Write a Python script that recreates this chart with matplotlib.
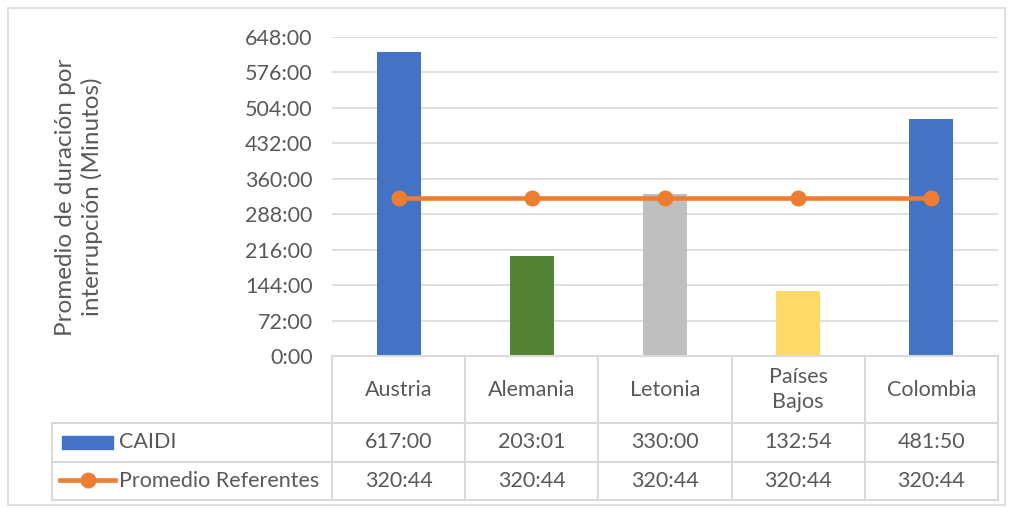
import matplotlib.pyplot as plt
import matplotlib.transforms as mtransforms
from matplotlib.patches import Rectangle
from matplotlib.lines import Line2D

plt.rcParams['font.family'] = ['Lato', 'DejaVu Sans']

# Datos (horas:minutos expresados en horas)
paises = ['Austria', 'Alemania', 'Letonia', 'Países\nBajos', 'Colombia']
caidi = [617 + 0/60, 203 + 1/60, 330 + 0/60, 132 + 54/60, 481 + 50/60]
promedio = [320 + 44/60] * 5
colores = ['#4472C4', '#548235', '#BFBFBF', '#FFD966', '#4472C4']
yticks = list(range(0, 649, 72))

gris_txt = '#595959'
gris_lin = '#D9D9D9'
fs = 15.5


def hm(v):
    h = int(v)
    m = int(round((v - h) * 60))
    if m == 60:
        h, m = h + 1, 0
    return f'{h}:{m:02d}'


fig = plt.figure(figsize=(10.11, 5.08), dpi=100)
W, H = 1011, 508
fx = lambda p: p / W
fy = lambda p: 1 - p / H
ax = fig.add_axes([332 / W, 1 - 356 / H, (998 - 332) / W, (356 - 37) / H])

x = list(range(len(paises)))
ax.bar(x, caidi, width=0.33, color=colores, zorder=2)
ax.plot(x, promedio, color='#ED7D31', lw=3.3, marker='o', ms=10.5, zorder=3)

ax.set_xlim(-0.5, 4.5)
ax.set_ylim(0, 648)
ax.set_yticks(yticks)
ax.set_yticklabels([hm(v) for v in yticks])
ax.set_xticks([])
ax.tick_params(axis='y', length=0, pad=14, labelsize=fs, labelcolor=gris_txt)
ax.grid(axis='y', color=gris_lin, lw=1.2, zorder=0)
for s in ['top', 'right', 'left', 'bottom']:
    ax.spines[s].set_visible(False)

fig.text(fx(79), fy(197), 'Promedio de duración por\ninterrupción (Minutos)', fontsize=17.5,
         color=gris_txt, rotation=90, ha='center', va='center', linespacing=1.3)

# Tabla de datos
tr = mtransforms.blended_transform_factory(ax.transData, ax.transAxes)
px = 1 / 319  # un pixel en fraccion de ejes (vertical)
y0, y1, y2, y3 = 0, -67 * px, -106 * px, -144 * px
xl = -0.5 - 280 / 133.2

def linea(xs, ys):
    ax.add_line(Line2D(xs, ys, transform=tr, color=gris_lin, lw=1.5, clip_on=False))

linea([-0.5, 4.5], [y0, y0])
for yy in [y1, y2, y3]:
    linea([xl, 4.5], [yy, yy])
for i in range(6):
    linea([i - 0.5, i - 0.5], [y0, y3])
linea([xl, xl], [y1, y3])

kw = dict(transform=tr, ha='center', va='center', fontsize=fs, color=gris_txt,
          clip_on=False)
for i, p in enumerate(paises):
    ax.text(i, (y0 + y1) / 2, p, linespacing=1.3, **kw)
    ax.text(i, (y1 + y2) / 2, hm(caidi[i]), **kw)
    ax.text(i, (y2 + y3) / 2, hm(promedio[i]), **kw)

# claves de la leyenda en la tabla
fig.patches.append(Rectangle((fx(62), fy(449)), fx(113) - fx(62), fy(436) - fy(449),
                             transform=fig.transFigure, color='#4472C4'))
fig.lines.append(Line2D([fx(60), fx(115)], [fy(480), fy(480)], transform=fig.transFigure,
                        color='#ED7D31', lw=3.3))
fig.lines.append(Line2D([fx(87.5)], [fy(480)], transform=fig.transFigure,
                        color='#ED7D31', marker='o', ms=10.5, lw=0))
fig.text(fx(119), fy(442.5), 'CAIDI', ha='left', va='center', fontsize=fs, color=gris_txt)
fig.text(fx(119), fy(481), 'Promedio Referentes', ha='left', va='center', fontsize=fs,
         color=gris_txt)

# borde exterior
fig.patches.append(Rectangle((fx(8), fy(505)), fx(1005) - fx(8), fy(8) - fy(505),
                             transform=fig.transFigure, fill=False, ec=gris_lin, lw=1.2))

fig.savefig('out.png', dpi=100)
